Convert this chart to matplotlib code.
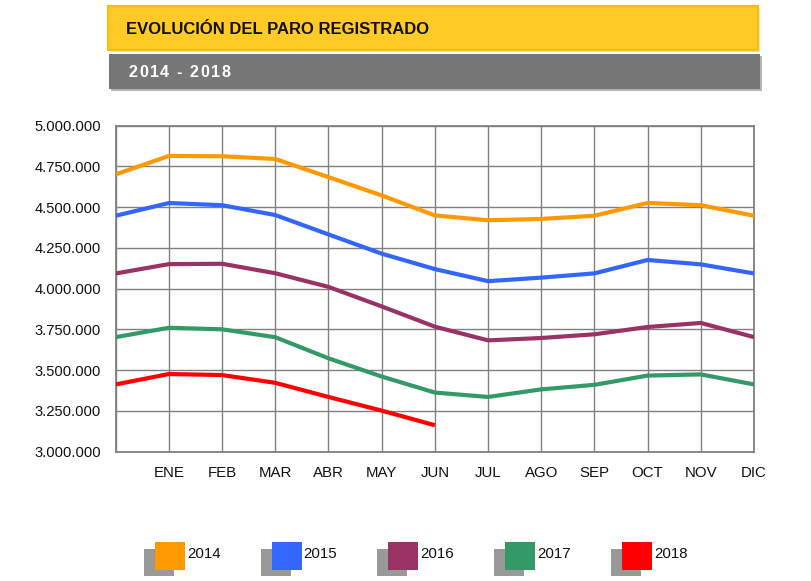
import matplotlib
matplotlib.use("Agg")
import matplotlib.pyplot as plt
from matplotlib.patches import Rectangle

FONT = ['Liberation Sans', 'DejaVu Sans']

# first point is december of the previous year
months = ['', 'ENE', 'FEB', 'MAR', 'ABR', 'MAY', 'JUN', 'JUL', 'AGO', 'SEP', 'OCT', 'NOV', 'DIC']
years = ['2014', '2015', '2016', '2017', '2018']
colors = ['#FF9900', '#3366FF', '#993366', '#339966', '#FF0000']

paro2014 = [4701338, 4814435, 4812486, 4795866, 4684609, 4572385, 4449701,
            4419860, 4427930, 4447650, 4526120, 4512153, 4447711]
paro2015 = [4447711, 4525691, 4512116, 4451939, 4333016, 4215031, 4120304,
            4046276, 4067955, 4094042, 4176369, 4149298, 4093508]
paro2016 = [4093508, 4150710, 4152986, 4094770, 4011171, 3891403, 3767054,
            3683061, 3697496, 3720297, 3764982, 3789823, 3702974]
paro2017 = [3702974, 3760231, 3750876, 3702317, 3573036, 3461128, 3362811,
            3335924, 3382324, 3410182, 3467026, 3474281, 3412781]
paro2018 = [3412781, 3476528, 3470248, 3422551, 3335868, 3252130, 3162162]
series = [paro2014, paro2015, paro2016, paro2017, paro2018]

yticks = [3000000, 3250000, 3500000, 3750000, 4000000, 4250000, 4500000, 4750000, 5000000]

W, H = 811, 581
fig = plt.figure(figsize=(W / 100, H / 100), dpi=100)
fig.patch.set_facecolor('white')

x0, x1, y0, y1 = 115.7, 754.0, 125.7, 451.7
ax = fig.add_axes([x0 / W, 1 - y1 / H, (x1 - x0) / W, (y1 - y0) / H])

for vals, c in zip(series, colors):
    ax.plot(range(len(vals)), vals, color=c, lw=3.0, solid_capstyle='butt', zorder=3)

ax.set_xlim(0, 12)
ax.set_ylim(3000000, 5000000)
ax.set_xticks(range(13))
ax.set_xticklabels(months, fontfamily=FONT, fontsize=10.8, color='#111111')
ax.set_yticks(yticks)
ax.set_yticklabels([f"{v:,.0f}".replace(',', '.') for v in yticks],
                   fontfamily=FONT, fontsize=10.6, color='#111111')
ax.tick_params(axis='both', length=0)
ax.tick_params(axis='y', pad=10.5)
ax.tick_params(axis='x', pad=10.5)
ax.grid(True, color='#808080', lw=1.0, zorder=1)
ax.set_axisbelow(True)
for s in ax.spines.values():
    s.set_color('#808080')
    s.set_linewidth(1.3)

# decoration layer in pixel coordinates
deco = fig.add_axes([0, 0, 1, 1])
deco.set_xlim(0, W)
deco.set_ylim(H, 0)
deco.axis('off')

# title bars
deco.add_patch(Rectangle((110, 8), 650, 44, facecolor='#F3E3B0', edgecolor='none'))
deco.add_patch(Rectangle((108, 6), 650, 44, facecolor='#FFC926', edgecolor='#F7BD10', lw=1.5))
deco.add_patch(Rectangle((111, 56), 651, 35, facecolor='#B5B5B5', edgecolor='none'))
deco.add_patch(Rectangle((109, 54), 651, 35, facecolor='#777777', edgecolor='none'))
deco.text(125.5, 29.5, 'EVOLUCIÓN DEL PARO REGISTRADO', fontfamily=FONT, fontweight='bold',
          fontsize=12.0, color='#111111', ha='left', va='center')

subtitle = '2014 - 2018'
advance = {' ': 6.0, '-': 7.0}
xc = 128.0
for ch in subtitle:
    step = advance.get(ch, 10.5)
    if ch != ' ':
        deco.text(xc + step / 2, 72.5, ch, fontfamily=FONT,
                  fontweight='bold', fontsize=11.5, color='white', ha='center', va='center')
    xc += step

# legend with shadowed squares
for i, (yr, c) in enumerate(zip(years, colors)):
    lx = 155 + i * 116.7
    deco.add_patch(Rectangle((lx - 11, 549), 30, 27, facecolor='#999999', edgecolor='none'))
    deco.add_patch(Rectangle((lx, 541.5), 30, 28, facecolor=c, edgecolor='none'))
    deco.text(lx + 32, 554, yr, fontfamily=FONT, fontsize=10.8, color='#111111',
              ha='left', va='center')

fig.savefig('out.png', dpi=100)
